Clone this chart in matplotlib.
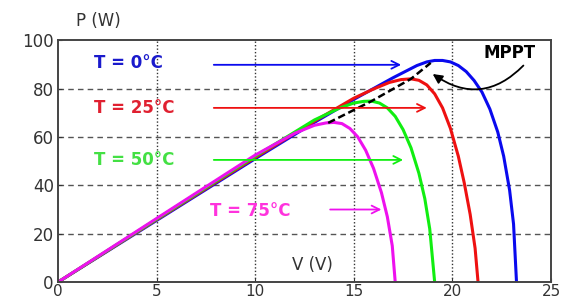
import matplotlib
matplotlib.use("Agg")
import matplotlib.pyplot as plt

# ---------------------------------
# Data
# ---------------------------------

v_0c = [0, 5, 10, 13, 15, 16, 17, 17.6, 18.2, 18.7, 19.1, 19.5, 19.9, 20.3, 20.7, 21.1,
        21.5, 21.9, 22.3, 22.6, 22.9, 23.1, 23.25]
p_0c = [0, 25.5, 51, 66, 75.5, 80, 84.5, 87, 89.5, 91, 91.6, 91.6, 91, 89.5, 87, 83.3,
        78.5, 71.5, 62, 52, 38, 24, 0]

v_25c = [0, 5, 10, 13, 15, 16, 16.8, 17.4, 17.9, 18.3, 18.7, 19.1, 19.5, 19.9, 20.3,
         20.6, 20.9, 21.15, 21.3]
p_25c = [0, 25.8, 51.5, 66.5, 76, 79.8, 82.5, 83.7, 84, 83.4, 81.5, 77.8, 72, 63.5, 52,
         41, 28, 14, 0]

v_50c = [0, 5, 10, 13, 14.3, 15.0, 15.5, 15.9, 16.3, 16.7, 17.1, 17.5, 17.9, 18.3,
         18.6, 18.85, 19.1]
p_50c = [0, 26, 52, 67, 72, 74, 74.7, 74.8, 74, 72, 68.5, 63, 55.5, 45, 34.5, 22, 0]

v_75c = [0, 5, 10, 12, 13, 13.6, 14.0, 14.4, 14.8, 15.2, 15.6, 16.0, 16.4, 16.7,
         16.95, 17.1]
p_75c = [0, 26.3, 52.5, 61.5, 64.8, 65.8, 66, 65.5, 63.5, 60, 54.5, 47, 37, 27, 15, 0]

v_mppt = [13.7, 15.9, 17.9, 18.9]
p_mppt = [65.8, 74.8, 84.0, 90.6]

labels = ["T = 0°C", "T = 25°C", "T = 50°C", "T = 75°C"]
x_ticks = [0, 5, 10, 15, 20, 25]
y_ticks = [0, 20, 40, 60, 80, 100]

# ---------------------------------
# Figure
# ---------------------------------

fig = plt.figure(figsize=(5.71, 3.04), dpi=100)
ax = fig.add_axes([0.1016, 0.072, 0.8634, 0.796])

colors = ["#0a0aee", "#ee1111", "#11ee11", "#ee11ee"]
text_colors = ["#1a1acc", "#e02030", "#44e044", "#ff33dd"]

curves = [(v_0c, p_0c), (v_25c, p_25c), (v_50c, p_50c), (v_75c, p_75c)]
for (v, p), c in zip(curves, colors):
    ax.plot(v, p, color=c, lw=2.2, solid_joinstyle="round")

ax.plot(v_mppt, p_mppt, color="black", lw=1.8, ls=(0, (3, 1.5)))

# ---------------------------------
# Temperature labels and arrows
# ---------------------------------

label_pos = [(1.8, 90.5), (1.8, 72), (1.8, 50.5), (7.7, 29.5)]
arrow_pos = [(7.9, 17.4, 89.8), (7.9, 18.7, 72), (7.9, 17.5, 50.5), (13.8, 16.4, 30)]

for lab, (lx, ly), (x0, x1, ya), tc, c in zip(labels, label_pos, arrow_pos, text_colors, colors):
    ax.text(lx, ly, lab, color=tc, fontsize=12, fontweight="bold", va="center", ha="left")
    ax.annotate("", xy=(x1, ya), xytext=(x0, ya),
                arrowprops=dict(arrowstyle="->", color=c, lw=1.3,
                                mutation_scale=14, shrinkA=0, shrinkB=0))

# MPPT label with curved arrow
ax.text(22.9, 94.8, "MPPT", fontsize=12, fontweight="bold", ha="center", va="center")
ax.annotate("", xy=(19.0, 86), xytext=(23.6, 89.5),
            arrowprops=dict(arrowstyle="-|>", color="black", lw=1.3,
                            mutation_scale=14, shrinkA=0, shrinkB=0,
                            connectionstyle="arc3,rad=-0.42"))

# ---------------------------------
# Axes
# ---------------------------------

ax.set_xlim(0, 25)
ax.set_ylim(0, 100)
ax.set_xticks(x_ticks)
ax.set_yticks(y_ticks)
ax.tick_params(direction="in", length=3, labelsize=12, colors="#333333")
ax.tick_params(axis="x", pad=1, labelsize=11)
ax.tick_params(axis="y", pad=3)

for sp in ax.spines.values():
    sp.set_color("#444444")
    sp.set_linewidth(1.4)

for x in x_ticks[1:-1]:
    ax.axvline(x, color="#333333", lw=1.0, ls=(0, (1, 1.5)), zorder=0)
for y in y_ticks[1:-1]:
    ax.axhline(y, color="#555555", lw=1.0, ls=(0, (4, 3)), zorder=0)

ax.text(12.9, 7, "V (V)", fontsize=12, color="#333333", ha="center", va="center")
fig.text(0.173, 0.93, "P (W)", fontsize=12, color="#333333", ha="center", va="center")

fig.savefig("out.png", dpi=100)
